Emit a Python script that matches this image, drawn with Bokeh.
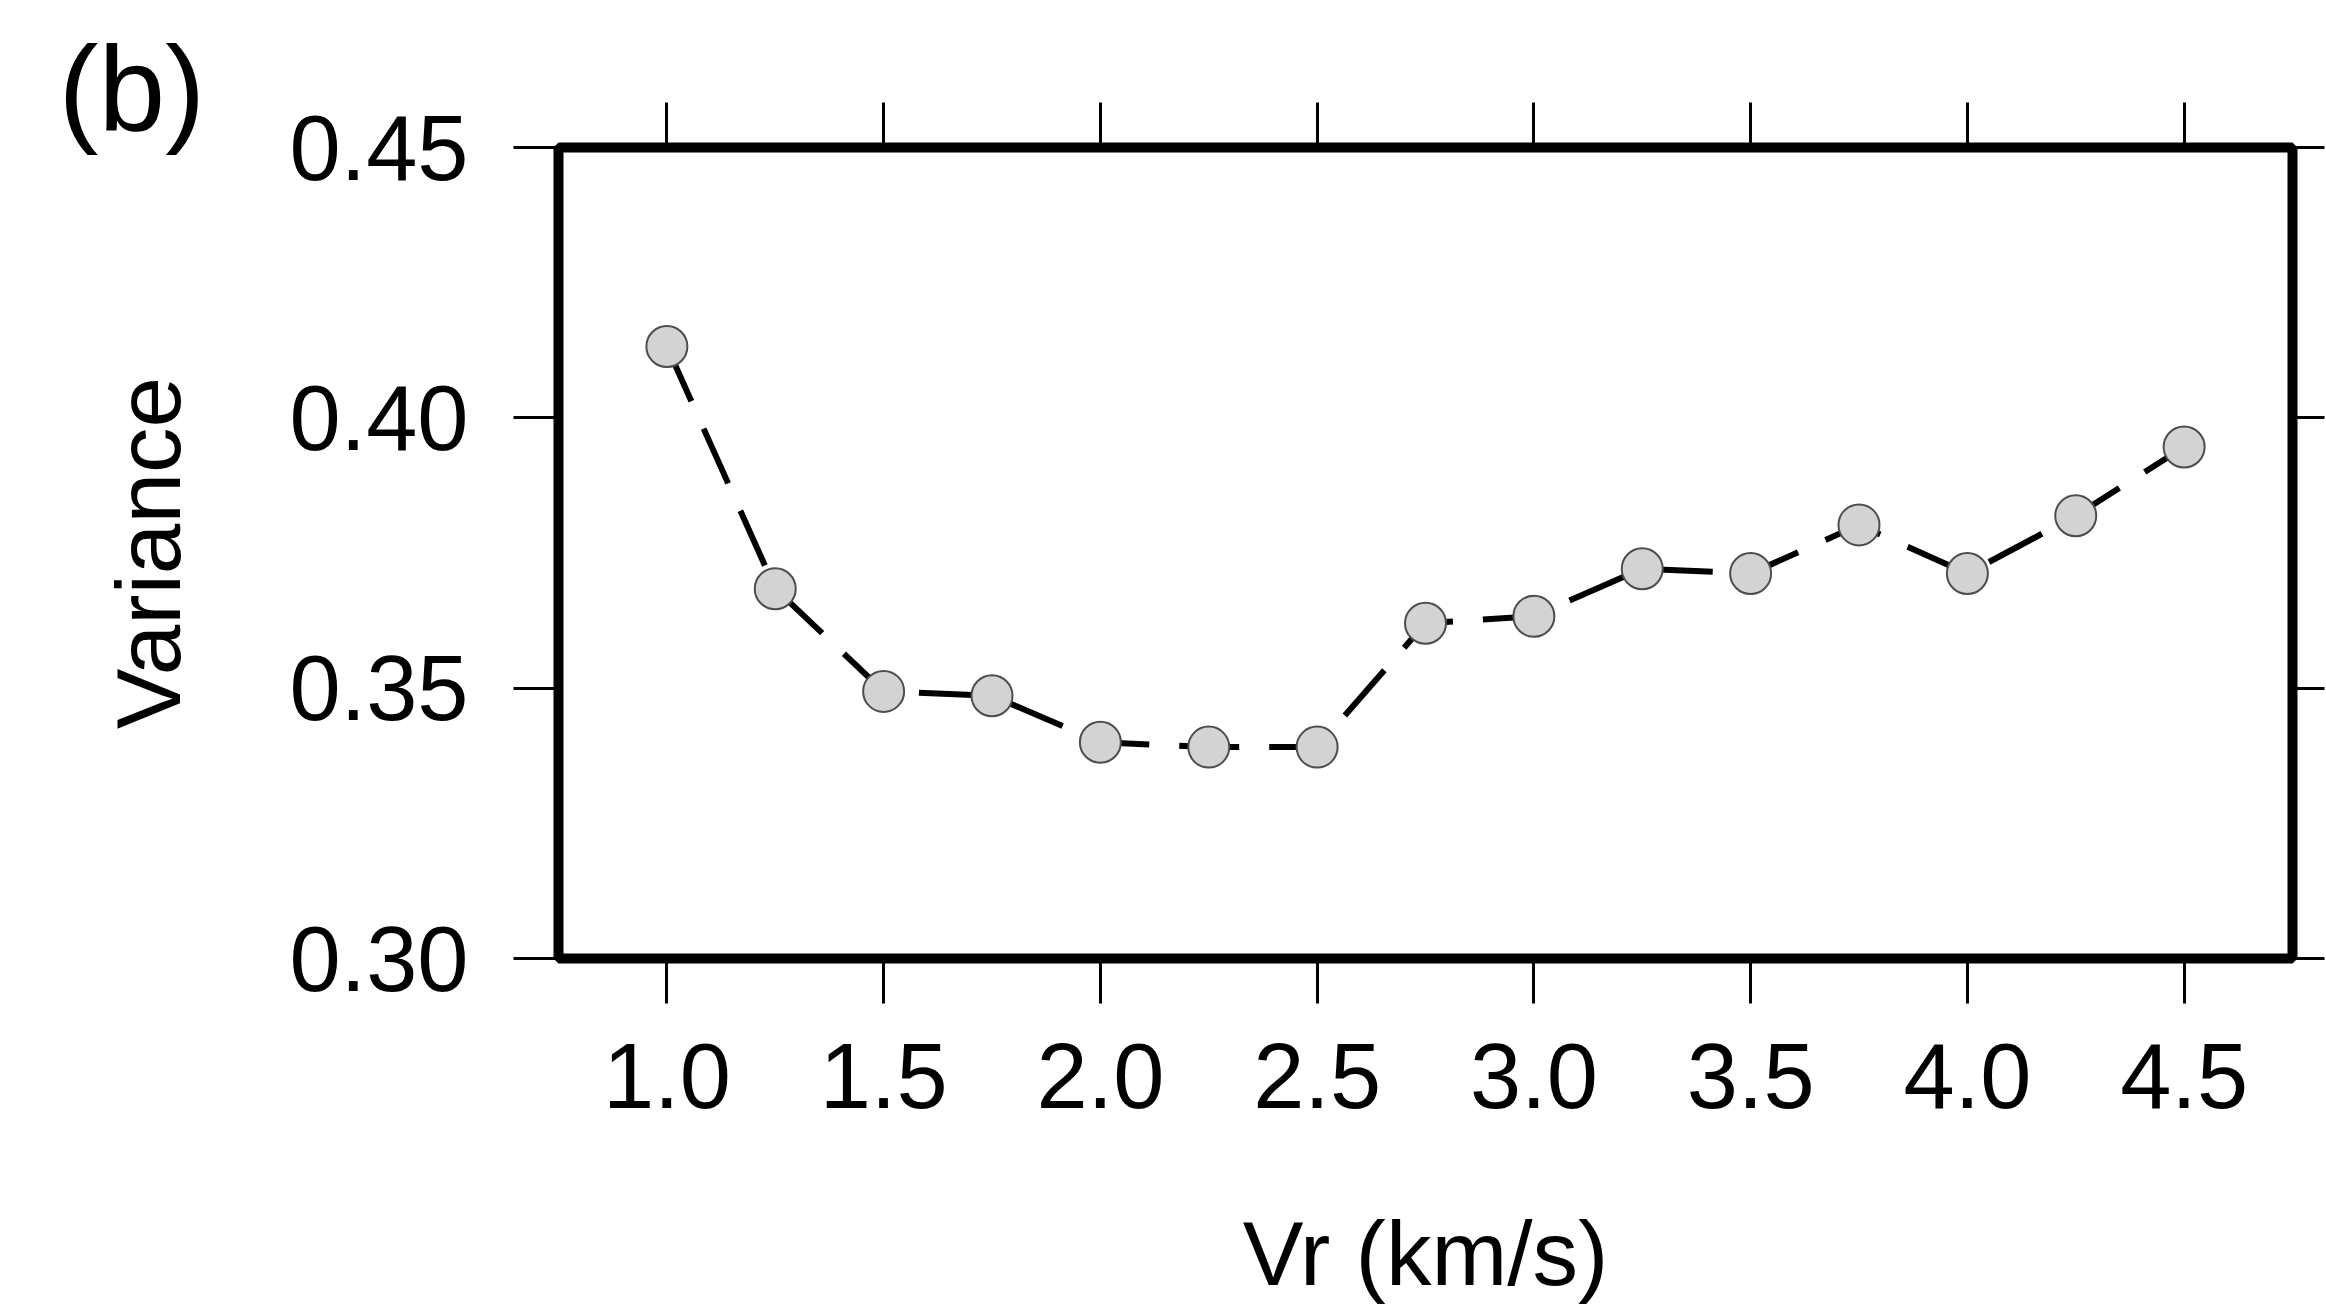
from bokeh.plotting import figure
from bokeh.models import (LinearAxis, FixedTicker, CustomJSTickFormatter,
                          Range1d, Title, ColumnDataSource)
from bokeh.embed import file_html
from bokeh.resources import INLINE

# ---- data ----
vr = [1.0, 1.25, 1.5, 1.75, 2.0, 2.25, 2.5, 2.75, 3.0, 3.25, 3.5, 3.75, 4.0, 4.25, 4.5]
variance = [0.4132, 0.3684, 0.3494, 0.3486, 0.3400, 0.3391, 0.3391, 0.3620,
            0.3633, 0.3721, 0.3712, 0.3802, 0.3712, 0.3819, 0.3946]
x_ticks = [1.0, 1.5, 2.0, 2.5, 3.0, 3.5, 4.0, 4.5]
x_tick_labels = ["1.0", "1.5", "2.0", "2.5", "3.0", "3.5", "4.0", "4.5"]
y_ticks = [0.30, 0.35, 0.40, 0.45]
y_tick_labels = ["0.30", "0.35", "0.40", "0.45"]
x_label = "Vr (km/s)"
y_label = "Variance"
panel_label = "(b)"

FONT = "Liberation Sans"

src = ColumnDataSource(data=dict(vr=vr, variance=variance))

p = figure(title=None, frame_width=1734, frame_height=811,
           min_border_left=558, min_border_top=147,
           min_border_right=34, min_border_bottom=350,
           x_range=Range1d(0.75, 4.75), y_range=Range1d(0.30, 0.45),
           output_backend="svg", toolbar_location=None,
           background_fill_color="white", border_fill_color="white")

p.xgrid.visible = False
p.ygrid.visible = False
p.outline_line_color = "black"
p.outline_line_width = 10
p.outline_line_alpha = 1.0

def label_formatter(tvals, tlabels):
    return CustomJSTickFormatter(args=dict(tvals=tvals, tlabels=tlabels), code="""
        for (let i = 0; i < tvals.length; i++) {
            if (Math.abs(tvals[i] - tick) < 1e-9) return tlabels[i];
        }
        return '';
    """)

def style_axis(ax, tick_out, standoff):
    ax.axis_line_color = None
    ax.major_tick_in = 0
    ax.major_tick_out = tick_out
    ax.major_tick_line_width = 3
    ax.major_tick_line_color = "black"
    ax.minor_tick_line_color = None
    ax.major_label_standoff = standoff
    ax.major_label_text_font = FONT
    ax.major_label_text_font_size = "92px"
    ax.major_label_text_color = "black"
    ax.axis_label_text_font = FONT
    ax.axis_label_text_font_size = "91px"
    ax.axis_label_text_font_style = "normal"
    ax.axis_label_text_color = "black"

# bottom axis
xb = p.xaxis[0]
xb.ticker = FixedTicker(ticks=x_ticks)
xb.formatter = label_formatter(x_ticks, x_tick_labels)
style_axis(xb, 45, 40)
xb.axis_label = x_label
xb.axis_label_standoff = 92

# left axis
yl = p.yaxis[0]
yl.ticker = FixedTicker(ticks=y_ticks)
yl.formatter = label_formatter(y_ticks, y_tick_labels)
style_axis(yl, 45, 45)
yl.axis_label = y_label
yl.axis_label_standoff = 87

# top axis (ticks only)
xt = LinearAxis(ticker=FixedTicker(ticks=x_ticks),
                formatter=CustomJSTickFormatter(code="return '';"))
style_axis(xt, 45, 0)
p.add_layout(xt, "above")

# right axis (ticks only)
yr = LinearAxis(ticker=FixedTicker(ticks=y_ticks),
                formatter=CustomJSTickFormatter(code="return '';"))
style_axis(yr, 32, 0)
p.add_layout(yr, "right")

# data
p.line("vr", "variance", source=src, line_color="black", line_width=6,
       line_dash="60 30")
p.scatter("vr", "variance", source=src, size=41, marker="circle",
          fill_color="#d3d3d3", line_color="#4d4d4d", line_width=2)

# panel label as a side-panel title (not clipped to the frame)
p.add_layout(Title(text=panel_label, align="left", vertical_align="bottom",
                   offset=-500, standoff=-104,
                   text_font=FONT, text_font_size="120px",
                   text_font_style="normal", text_color="black"), "above")

open("out.html", "w").write(file_html(p, INLINE))
